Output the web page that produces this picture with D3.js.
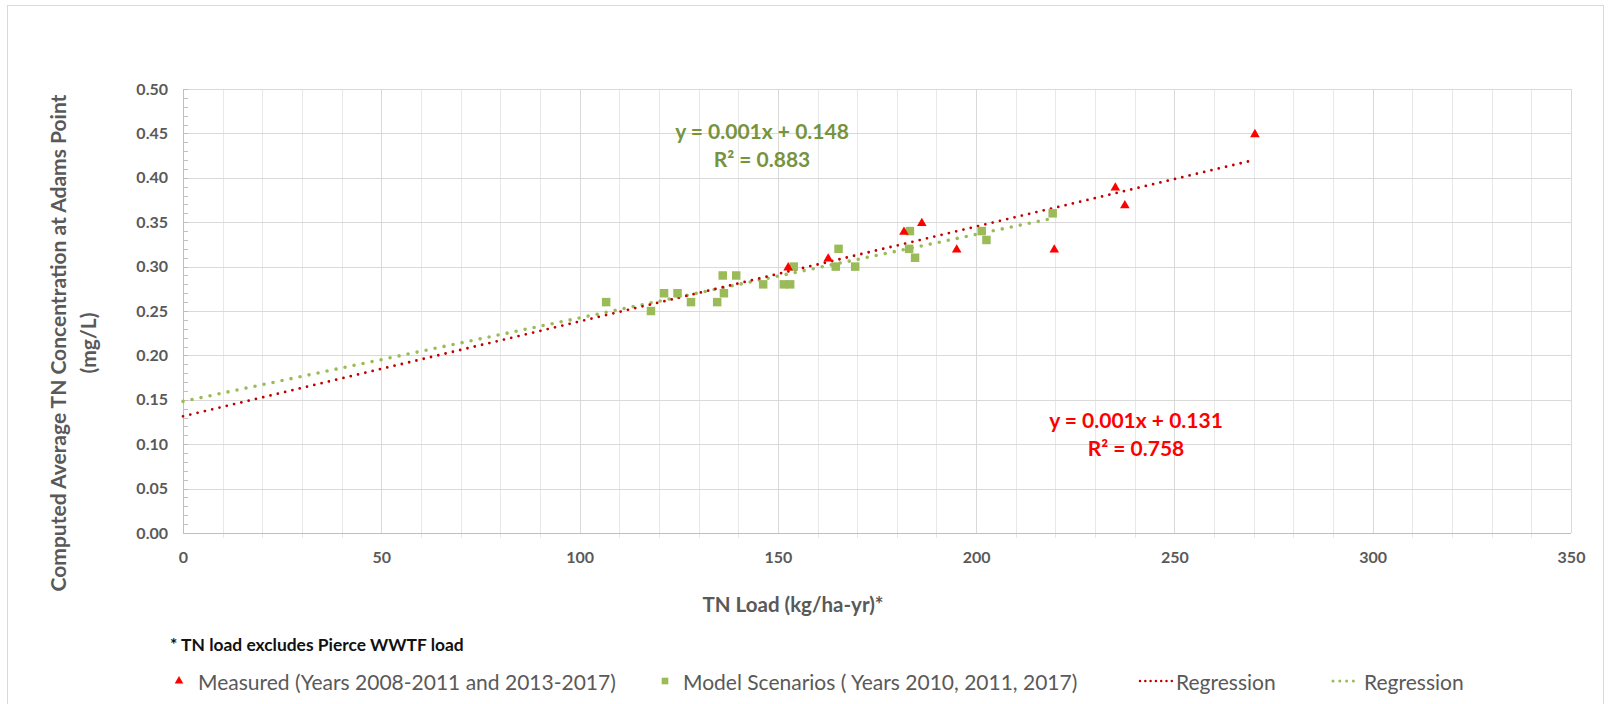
<!DOCTYPE html>
<html><head><meta charset="utf-8">
<script src="https://cdn.jsdelivr.net/npm/d3@7"></script>
<style>
body{margin:0;background:#fff}
svg{display:block}
text{font-family:Lato,"Liberation Sans",sans-serif}
</style>
</head><body>
<svg id="chart" width="1611" height="704"></svg>
<script>
// ---- data ----
const measuredX = [152.6, 162.7, 181.8, 186.3, 195.1, 219.7, 235.1, 237.5, 270.3];
const measuredY = [0.30, 0.31, 0.34, 0.35, 0.32, 0.32, 0.39, 0.37, 0.45];
const modelX = [106.7, 118.0, 121.3, 124.7, 128.1, 134.7, 136.4, 136.1, 139.5, 146.3, 151.5,
                153.1, 154.0, 164.6, 165.3, 169.5, 183.3, 183.1, 184.6, 201.4, 202.6, 219.3];
const modelY = [0.26, 0.25, 0.27, 0.27, 0.26, 0.26, 0.27, 0.29, 0.29, 0.28, 0.28,
                0.28, 0.30, 0.30, 0.32, 0.30, 0.34, 0.32, 0.31, 0.34, 0.33, 0.36];
const xTicks = [0, 50, 100, 150, 200, 250, 300, 350];
const yTicks = [0.00, 0.05, 0.10, 0.15, 0.20, 0.25, 0.30, 0.35, 0.40, 0.45, 0.50];
const seriesNames = ["Measured (Years 2008-2011 and 2013-2017)", "Model Scenarios ( Years 2010, 2011, 2017)", "Regression", "Regression"];
const eqMeasured = ["y = 0.001x + 0.131", "R\u00B2 = 0.758"];
const eqModel = ["y = 0.001x + 0.148", "R\u00B2 = 0.883"];
const xTitle = "TN Load (kg/ha-yr)*";
const yTitle = ["Computed Average TN Concentration at Adams Point", "(mg/L)"];
const footnote = "* TN load excludes Pierce WWTF load";

// ---- layout ----
const L = 183, R = 1571, T = 89, B = 533;
const gray = "#595959";
const redMark = "#ff0000", redLine = "#c00000", green = "#9bbb59", eqGreen = "#77933c";

const svg = d3.select("#chart");
svg.append("rect").attr("x", 7.5).attr("y", 5.5).attr("width", 1596).attr("height", 730)
  .attr("fill", "#fff").attr("stroke", "#d9d9d9");

const x = d3.scaleLinear().domain([0, 350]).range([L, R]);
const y = d3.scaleLinear().domain([0, 0.5]).range([B, T]);

// grid
const g = svg.append("g");
g.selectAll(".vmin").data(d3.range(0, 351, 10).filter(v => v % 50 !== 0)).join("line")
  .attr("x1", d => Math.round(x(d)) + 0.5).attr("x2", d => Math.round(x(d)) + 0.5).attr("y1", T).attr("y2", B + 5)
  .attr("stroke", "#e8e8e8");
g.selectAll(".vmaj").data(xTicks).join("line")
  .attr("x1", d => Math.round(x(d)) + 0.5).attr("x2", d => Math.round(x(d)) + 0.5).attr("y1", T).attr("y2", B)
  .attr("stroke", "#d9d9d9");
g.selectAll(".hmaj").data(yTicks).join("line")
  .attr("x1", L).attr("x2", R).attr("y1", d => Math.round(y(d)) + 0.5).attr("y2", d => Math.round(y(d)) + 0.5)
  .attr("stroke", "#d9d9d9");
g.selectAll(".ymt").data(d3.range(0, 51).map(i => i / 100)).join("line")
  .attr("x1", L).attr("x2", L + 5).attr("y1", d => Math.round(y(d)) + 0.5).attr("y2", d => Math.round(y(d)) + 0.5)
  .attr("stroke", "#bfbfbf");
g.append("line").attr("x1", L + 0.5).attr("x2", L + 0.5).attr("y1", T).attr("y2", B).attr("stroke", "#bfbfbf");
g.append("line").attr("x1", L).attr("x2", R).attr("y1", B + 0.5).attr("y2", B + 0.5).attr("stroke", "#bfbfbf");

const yAxis = svg.append("g").attr("transform", `translate(${L},0)`)
  .call(d3.axisLeft(y).tickValues(yTicks).tickFormat(d3.format(".2f")).tickSize(0).tickPadding(15));
const xAxis = svg.append("g").attr("transform", `translate(0,${B})`)
  .call(d3.axisBottom(x).tickValues(xTicks).tickSize(0).tickPadding(19));
[yAxis, xAxis].forEach(a => {
  a.select(".domain").remove();
  a.selectAll("text").attr("font-family", "Lato").attr("font-size", 16).attr("font-weight", "bold").attr("fill", gray);
});

function fit(xs, ys) {
  const mx = d3.mean(xs), my = d3.mean(ys);
  const sxy = d3.sum(xs, (v, i) => (v - mx) * (ys[i] - my));
  const sxx = d3.sum(xs, v => (v - mx) ** 2);
  const b = sxy / sxx;
  return { a: my - b * mx, b };
}
const fm = fit(measuredX, measuredY), fg = fit(modelX, modelY);
const line = d3.line().x(d => x(d[0])).y(d => y(d[1]));
svg.append("path").datum([[0, fg.a], [d3.max(modelX), fg.a + fg.b * d3.max(modelX)]])
  .attr("d", line).attr("fill", "none").attr("stroke", green).attr("stroke-width", 3.6)
  .attr("stroke-linecap", "round").attr("stroke-dasharray", "0 9.2");
svg.append("path").datum([[0, fm.a], [d3.max(measuredX), fm.a + fm.b * d3.max(measuredX)]])
  .attr("d", line).attr("fill", "none").attr("stroke", redLine).attr("stroke-width", 2.8)
  .attr("stroke-linecap", "round").attr("stroke-dasharray", "0 7.5");

const sq = d3.symbol().type(d3.symbolSquare).size(72);
const tri = d3.symbol().type(d3.symbolTriangle).size(40);
svg.append("g").selectAll("path").data(modelX.map((v, i) => [v, modelY[i]])).join("path")
  .attr("d", sq).attr("transform", d => `translate(${x(d[0])},${y(d[1])})`).attr("fill", green);
svg.append("g").selectAll("path").data(measuredX.map((v, i) => [v, measuredY[i]])).join("path")
  .attr("d", tri).attr("transform", d => `translate(${x(d[0])},${y(d[1]) + 1})`).attr("fill", redMark);

function eq(lines, cx, cy, color) {
  svg.append("g").selectAll("text").data(lines).join("text")
    .attr("x", cx).attr("y", (d, i) => cy + i * 28).attr("text-anchor", "middle").attr("dominant-baseline", "central")
    .attr("font-size", 21).attr("font-weight", "bold").attr("fill", color).text(d => d);
}
eq(eqModel, 762, 130, eqGreen);
eq(eqMeasured, 1136, 419, redMark);

svg.append("text").attr("x", 793).attr("y", 604).attr("text-anchor", "middle").attr("dominant-baseline", "central")
  .attr("font-size", 20.5).attr("font-weight", "bold").attr("fill", gray).text(xTitle);
svg.append("g").attr("transform", "translate(57,343) rotate(-90)").selectAll("text").data(yTitle).join("text")
  .attr("x", 0).attr("y", (d, i) => i * 30).attr("text-anchor", "middle").attr("dominant-baseline", "central")
  .attr("font-size", 21).attr("font-weight", "bold").attr("fill", gray).text(d => d);

svg.append("text").attr("x", 170).attr("y", 644).attr("dominant-baseline", "central")
  .attr("font-size", 17.4).attr("font-weight", "bold").attr("fill", "#111").text(footnote);

const ly = 681;
const leg = svg.append("g");
leg.append("path").attr("d", d3.symbol().type(d3.symbolTriangle).size(32)).attr("transform", `translate(179,${ly})`).attr("fill", redMark);
leg.append("path").attr("d", d3.symbol().type(d3.symbolSquare).size(44)).attr("transform", `translate(665,${ly})`).attr("fill", green);
leg.append("line").attr("x1", 1140).attr("x2", 1172).attr("y1", ly).attr("y2", ly).attr("stroke", redLine)
  .attr("stroke-width", 2.5).attr("stroke-linecap", "round").attr("stroke-dasharray", "0 5.3");
leg.append("line").attr("x1", 1333).attr("x2", 1360).attr("y1", ly).attr("y2", ly).attr("stroke", green)
  .attr("stroke-width", 3).attr("stroke-linecap", "round").attr("stroke-dasharray", "0 6.8");
const legX = [198, 683, 1176, 1364];
leg.selectAll("text").data(seriesNames).join("text")
  .attr("x", (d, i) => legX[i]).attr("y", ly).attr("dominant-baseline", "central")
  .attr("font-size", 21).attr("fill", gray).text(d => d);
</script>
</body></html>
